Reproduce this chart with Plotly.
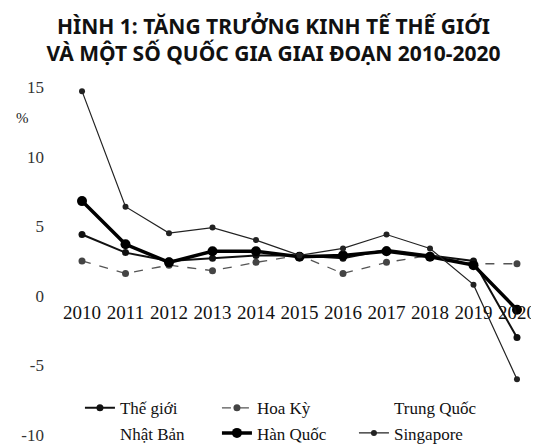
import plotly.graph_objects as go

years = [2010, 2011, 2012, 2013, 2014, 2015, 2016, 2017, 2018, 2019, 2020]
the_gioi = [4.4, 3.1, 2.5, 2.7, 2.9, 2.9, 2.7, 3.3, 2.9, 2.5, -3.0]
hoa_ky = [2.5, 1.6, 2.2, 1.8, 2.4, 2.9, 1.6, 2.4, 2.9, 2.3, 2.3]
trung_quoc = [None] * 11   # not visible in the printed figure
nhat_ban = [None] * 11     # not visible in the printed figure
han_quoc = [6.8, 3.7, 2.4, 3.2, 3.2, 2.8, 2.9, 3.2, 2.8, 2.2, -1.0]
singapore = [14.7, 6.4, 4.5, 4.9, 4.0, 2.9, 3.4, 4.4, 3.4, 0.8, -6.0]

y_ticks = [-10, -5, 0, 5, 10, 15]
y_tick_text = ["-10", "-5", "0", "5", "10", "15"]
x_tick_text = [str(y) for y in years]

title_text = "HÌNH 1: TĂNG TRƯỞNG KINH TẾ THẾ GIỚI<br>VÀ MỘT SỐ QUỐC GIA GIAI ĐOẠN 2010-2020"

fig = go.Figure()
fig.add_trace(go.Scatter(x=years, y=the_gioi, name="Thế giới", mode="lines+markers",
                         line=dict(color="#111", width=2), marker=dict(size=7, color="#111")))
fig.add_trace(go.Scatter(x=years, y=hoa_ky, name="Hoa Kỳ", mode="lines+markers",
                         line=dict(color="#555", width=1.3, dash="dash"), marker=dict(size=7, color="#444")))
fig.add_trace(go.Scatter(x=years, y=trung_quoc, name="Trung Quốc", mode="lines",
                         line=dict(color="rgba(0,0,0,0)", width=1)))
fig.add_trace(go.Scatter(x=years, y=nhat_ban, name="Nhật Bản", mode="lines",
                         line=dict(color="rgba(0,0,0,0)", width=1)))
fig.add_trace(go.Scatter(x=years, y=han_quoc, name="Hàn Quốc", mode="lines+markers",
                         line=dict(color="#000", width=3.5), marker=dict(size=10, color="#000")))
fig.add_trace(go.Scatter(x=years, y=singapore, name="Singapore", mode="lines+markers",
                         line=dict(color="#222", width=1.2), marker=dict(size=6, color="#222")))

ymin, ymax = -10.72, 15.5
zero_pos = (0 - ymin) / (ymax - ymin)

fig.update_layout(
    width=531, height=438,
    margin=dict(l=50, r=4, t=72, b=1, autoexpand=False),
    paper_bgcolor="white", plot_bgcolor="white",
    title=dict(text=title_text, x=0.5, xanchor="center", y=0.941, yanchor="top",
               font=dict(family="Noto Sans", size=21, color="#111", weight="bold")),
    xaxis=dict(range=[2009.448, 2020.414], tickvals=years, ticktext=x_tick_text,
               showgrid=False, zeroline=False, showline=False, ticks="",
               anchor="free", position=zero_pos, ticklabelstandoff=3, automargin=False,
               ticklabeloverflow="allow",
               tickfont=dict(family="Liberation Serif", size=19, color="#111")),
    yaxis=dict(range=[ymin, ymax], tickvals=y_ticks, ticktext=y_tick_text,
               showgrid=False, zeroline=False, showline=False, ticks="",
               ticklabelstandoff=13, automargin=False, ticklabeloverflow="allow",
               tickfont=dict(family="Liberation Serif", size=17, color="#333")),
    legend=dict(orientation="h", x=0.046, xanchor="left", y=0.150, yanchor="top",
                entrywidth=92, entrywidthmode="pixels", bgcolor="rgba(0,0,0,0)",
                font=dict(family="Liberation Serif", size=17, color="#111")),
    showlegend=True,
)

fig.add_annotation(text="%", xref="paper", yref="paper", x=-0.092, y=0.923,
                   showarrow=False, font=dict(family="Liberation Serif", size=15, color="#222"))

fig.write_html("out.html")
